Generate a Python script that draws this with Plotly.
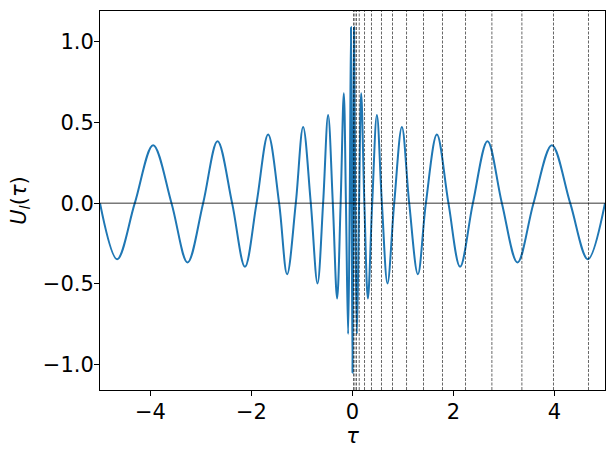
import plotly.graph_objects as go

# curve: zeros and extrema of U_l(tau)
tau = [
    -5.0, -4.661, -4.311, -3.948, -3.584, -3.267, -2.958, -2.673, -2.384, -2.13,
    -1.90, -1.671, -1.453, -1.295, -1.123, -0.978, -0.826, -0.693, -0.582, -0.483,
    -0.39, -0.305, -0.235, -0.172, -0.13, -0.087, -0.055, -0.03, -0.015, 0.0,
    0.015, 0.03, 0.055, 0.087, 0.13, 0.172, 0.235, 0.305, 0.39, 0.483,
    0.582, 0.693, 0.826, 0.978, 1.123, 1.295, 1.453, 1.671, 1.90, 2.13,
    2.384, 2.673, 2.958, 3.267, 3.584, 3.948, 4.311, 4.661, 5.0,
]
u_l = [
    0.0, -0.347, 0.0, 0.359, 0.0, -0.367, 0.0, 0.384, 0.0, -0.394,
    0.0, 0.425, 0.0, -0.44, 0.0, 0.472, 0.0, -0.497, 0.0, 0.546,
    0.0, -0.59, 0.0, 0.68, 0.0, -0.81, 0.0, 1.09, 0.0, -1.05,
    0.0, 1.09, 0.0, -0.81, 0.0, 0.68, 0.0, -0.59, 0.0, 0.546,
    0.0, -0.497, 0.0, 0.472, 0.0, -0.44, 0.0, 0.425, 0.0, -0.394,
    0.0, 0.384, 0.0, -0.367, 0.0, 0.359, 0.0, -0.347, 0.0,
]

# dashed vertical markers on the positive side
markers = [
    0.02, 0.048, 0.079, 0.133, 0.238, 0.376, 0.574, 0.792, 1.07, 1.406,
    1.782, 2.238, 2.76, 3.354, 3.98, 4.673,
]

x_ticks = [-4, -2, 0, 2, 4]
y_ticks = [-1.0, -0.5, 0.0, 0.5, 1.0]

FONT = "DejaVu Sans"

fig = go.Figure()
fig.add_trace(
    go.Scatter(
        x=tau,
        y=u_l,
        mode="lines",
        line=dict(color="#1f77b4", width=2, shape="spline", smoothing=1.0),
        showlegend=False,
    )
)

fig.add_hline(y=0, line_color="black", line_width=0.8)
for m in markers:
    fig.add_vline(x=m, line_color="black", line_width=0.6, line_dash="3px,1.5px")

axis_style = dict(
    showline=True,
    mirror=True,
    linecolor="black",
    linewidth=1,
    showgrid=False,
    zeroline=False,
    automargin=False,
    ticks="outside",
    ticklen=5,
    tickwidth=1,
    tickcolor="black",
    tickfont=dict(family=FONT, size=21, color="black"),
)

fig.update_layout(
    width=615,
    height=455,
    plot_bgcolor="white",
    paper_bgcolor="white",
    margin=dict(l=100, r=10, t=11, b=65),
    font=dict(family=FONT, color="black"),
    xaxis=dict(
        range=[-5, 5],
        tickvals=x_ticks,
        ticklabelstandoff=-2,
        title=dict(text="<i>τ</i>", font=dict(family=FONT, size=21), standoff=0),
        **axis_style,
    ),
    yaxis=dict(
        range=[-1.157, 1.19],
        tickvals=y_ticks,
        tickformat=".1f",
        ticklabelstandoff=-4,
        title=dict(
            text="<i>U</i><sub><i>l</i></sub>(<i>τ</i>)",
            font=dict(family=FONT, size=21),
            standoff=10,
        ),
        **axis_style,
    ),
)

fig.write_html(
    "out.html",
    config={"displayModeBar": False},
    post_script="document.body.style.margin='0';document.body.style.overflow='hidden';",
)
